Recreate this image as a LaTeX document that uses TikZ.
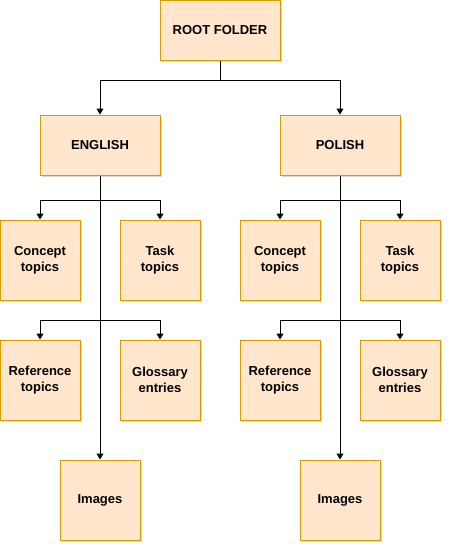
\documentclass[tikz,border=0pt]{standalone}
\usepackage{fontspec}
\setmainfont{Liberation Sans}
\usetikzlibrary{arrows.meta,shadows}
\definecolor{boxfill}{HTML}{FFE6CC}
\definecolor{boxdraw}{HTML}{D79B00}
\tikzset{
  box/.style={draw=boxdraw, fill=boxfill, line width=1pt, minimum width=80pt, minimum height=80pt,
    inner sep=0pt, align=center, font=\fontsize{13}{16}\selectfont\bfseries,
    drop shadow={shadow xshift=2pt, shadow yshift=-2pt, opacity=0.25, fill=black!60}},
  wide/.style={box, minimum width=120pt, minimum height=60pt},
  conn/.style={draw=black, line width=1pt, -{Triangle[length=6pt,width=7pt]}},
  seg/.style={draw=black, line width=1pt}
}
\begin{document}
\begin{tikzpicture}[x=1pt,y=-1pt]
\useasboundingbox (0,0) rectangle (452,552);
\node[wide] (root) at (220,30) {ROOT FOLDER};
\node[wide] (en) at (100,145) {ENGLISH};
\node[wide] (pl) at (340,145) {POLISH};
% English
\node[box] (enc) at (40,260) {Concept\\topics};
\node[box] (ent) at (160,260) {Task\\topics};
\node[box] (enr) at (40,380) {Reference\\topics};
\node[box] (eng) at (160,380) {Glossary\\entries};
\node[box] (eni) at (100,500) {Images};
% Polish
\node[box] (plc) at (280,260) {Concept\\topics};
\node[box] (plt) at (400,260) {Task\\topics};
\node[box] (plr) at (280,380) {Reference\\topics};
\node[box] (plg) at (400,380) {Glossary\\entries};
\node[box] (pli) at (340,500) {Images};
% connectors
\draw[conn] (root.south) |- (220,80) -| (en.north);
\draw[conn] (root.south) |- (220,80) -| (pl.north);
\foreach \p/\c/\t/\r/\g/\i in {en/enc/ent/enr/eng/eni, pl/plc/plt/plr/plg/pli}{
  \draw[conn] (\p.south) -- ++(0,25) -| (\c.north);
  \draw[conn] (\p.south) -- ++(0,25) -| (\t.north);
  \draw[conn] (\p.south) -- ++(0,145) -| (\r.north);
  \draw[conn] (\p.south) -- ++(0,145) -| (\g.north);
  \draw[conn] (\p.south) -- (\i.north);
}
\end{tikzpicture}
\end{document}
